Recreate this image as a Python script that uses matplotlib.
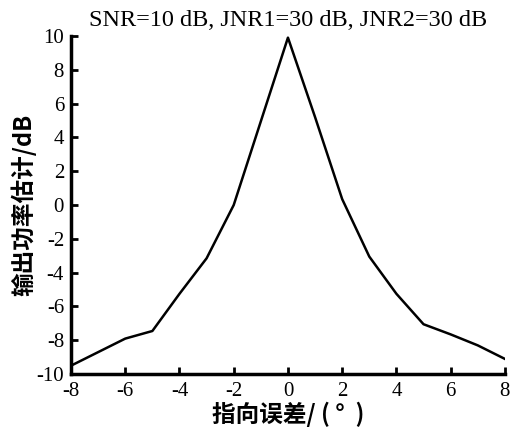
import matplotlib
matplotlib.use("Agg")
import matplotlib.pyplot as plt

x_err = [-8, -7, -6, -5, -4, -3, -2, -1, 0, 1, 2, 3, 4, 5, 6, 7, 8]
power = [-9.5, -8.7, -7.9, -7.45, -5.25, -3.15, 0.0, 4.95, 9.9, 5.2, 0.35, -3.05, -5.25, -7.05, -7.65, -8.3, -9.1]
xticks = [-8, -6, -4, -2, 0, 2, 4, 6, 8]
yticks = [-10, -8, -6, -4, -2, 0, 2, 4, 6, 8, 10]

title = "SNR=10 dB, JNR1=30 dB, JNR2=30 dB"
xlabel = "指向误差/ ( °  )"
ylabel = "输出功率估计/dB"

fig = plt.figure(figsize=(5.11, 4.33), dpi=100)
ax = fig.add_axes([0.139, 0.136, 0.849, 0.781])
ax.plot(x_err, power, color="black", lw=1.8)
ax.set_xlim(-8, 8)
ax.set_ylim(-10, 10)
ax.set_xticks(xticks)
ax.set_yticks(yticks)
serif = ["Liberation Serif", "DejaVu Serif"]
ax.set_xticklabels([str(t) for t in xticks], fontsize=15, family=serif)
ax.set_yticklabels([str(t) for t in yticks], fontsize=15, family=serif)
ax.tick_params(axis="x", direction="in", length=5, width=2, pad=6)
ax.tick_params(axis="y", direction="in", length=5, width=2, pad=5)
for s in ["top", "right"]:
    ax.spines[s].set_visible(False)
for s in ["left", "bottom"]:
    ax.spines[s].set_linewidth(2.5)
cjk = ["Noto Sans CJK SC", "DejaVu Sans"]
ax.set_xlabel(xlabel, fontsize=17, family=cjk, weight="bold", labelpad=0)
ax.set_ylabel(ylabel, fontsize=17, family=cjk, weight="bold", labelpad=0)
ax.set_title(title, fontsize=17.5, family=serif, pad=7)
fig.savefig("out.png", dpi=100)
